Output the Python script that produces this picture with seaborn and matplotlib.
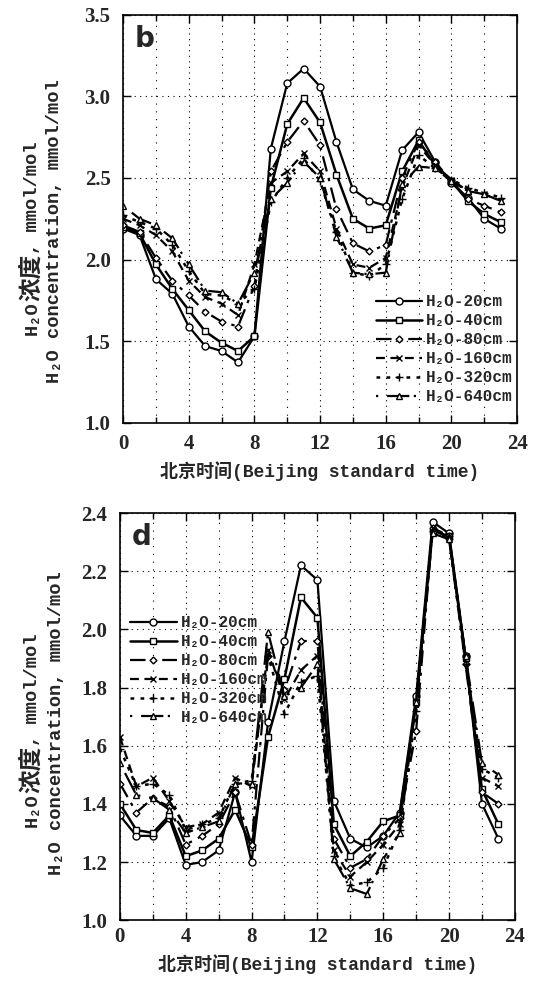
import numpy as np
import pandas as pd
import matplotlib
matplotlib.use("Agg")
import matplotlib.pyplot as plt
from matplotlib.ticker import MultipleLocator, FormatStrFormatter
import seaborn as sns

hours = list(range(24))
labels = ["H₂O-20cm", "H₂O-40cm", "H₂O-80cm", "H₂O-160cm", "H₂O-320cm", "H₂O-640cm"]

# Panel b
b_20 = [2.19, 2.15, 1.88, 1.79, 1.59, 1.47, 1.44, 1.37, 1.53, 2.68, 3.08, 3.17, 3.06, 2.72, 2.43, 2.36, 2.33, 2.67, 2.78, 2.60, 2.47, 2.38, 2.25, 2.19]
b_40 = [2.20, 2.16, 1.97, 1.82, 1.69, 1.56, 1.49, 1.44, 1.53, 2.44, 2.83, 2.99, 2.84, 2.52, 2.25, 2.19, 2.21, 2.54, 2.73, 2.58, 2.48, 2.36, 2.28, 2.23]
b_80 = [2.21, 2.17, 2.01, 1.87, 1.78, 1.68, 1.62, 1.59, 1.84, 2.54, 2.72, 2.85, 2.70, 2.31, 2.10, 2.05, 2.09, 2.50, 2.72, 2.60, 2.48, 2.37, 2.33, 2.29]
b_160 = [2.25, 2.21, 2.15, 2.05, 1.87, 1.77, 1.73, 1.66, 1.97, 2.47, 2.54, 2.65, 2.54, 2.19, 1.97, 1.95, 2.01, 2.44, 2.70, 2.58, 2.49, 2.42, 2.40, 2.36]
b_320 = [2.27, 2.23, 2.19, 2.09, 1.93, 1.79, 1.78, 1.73, 1.82, 2.35, 2.50, 2.62, 2.48, 2.17, 1.92, 1.90, 1.97, 2.37, 2.64, 2.56, 2.49, 2.44, 2.41, 2.38]
b_640 = [2.33, 2.25, 2.21, 2.13, 1.97, 1.81, 1.80, 1.73, 1.92, 2.37, 2.47, 2.60, 2.50, 2.14, 1.92, 1.91, 1.92, 2.46, 2.57, 2.56, 2.48, 2.42, 2.40, 2.36]

# Panel d
d_20 = [1.36, 1.29, 1.29, 1.35, 1.19, 1.20, 1.24, 1.44, 1.20, 1.68, 1.96, 2.22, 2.17, 1.41, 1.28, 1.25, 1.29, 1.37, 1.77, 2.37, 2.33, 1.91, 1.40, 1.28]
d_40 = [1.40, 1.31, 1.30, 1.36, 1.22, 1.24, 1.28, 1.38, 1.25, 1.63, 1.83, 2.11, 2.04, 1.33, 1.22, 1.27, 1.34, 1.36, 1.75, 2.34, 2.32, 1.90, 1.45, 1.33]
d_80 = [1.47, 1.37, 1.42, 1.39, 1.26, 1.29, 1.33, 1.44, 1.26, 1.91, 1.79, 1.96, 1.96, 1.28, 1.18, 1.21, 1.29, 1.35, 1.65, 2.35, 2.31, 1.88, 1.44, 1.40]
d_160 = [1.63, 1.46, 1.49, 1.41, 1.32, 1.33, 1.37, 1.49, 1.46, 1.93, 1.76, 1.86, 1.91, 1.24, 1.15, 1.20, 1.26, 1.33, 1.75, 2.35, 2.32, 1.91, 1.49, 1.46]
d_320 = [1.59, 1.46, 1.47, 1.43, 1.31, 1.33, 1.35, 1.47, 1.48, 1.91, 1.71, 1.82, 1.84, 1.22, 1.12, 1.13, 1.18, 1.31, 1.72, 2.34, 2.32, 1.88, 1.52, 1.49]
d_640 = [1.54, 1.43, 1.42, 1.38, 1.30, 1.32, 1.34, 1.47, 1.47, 1.99, 1.77, 1.80, 1.88, 1.21, 1.11, 1.09, 1.21, 1.30, 1.75, 2.33, 2.31, 1.91, 1.54, 1.50]

panel_b = [b_20, b_40, b_80, b_160, b_320, b_640]
panel_d = [d_20, d_40, d_80, d_160, d_320, d_640]

xlabel = "北京时间(Beijing standard time)"
ylabel_line1 = ["H₂O", "浓度", ", mmol/mol"]
ylabel_line2 = "H₂O concentration, mmol/mol"

sns.set_theme(style="white")
plt.rcParams["font.family"] = ["Liberation Serif", "Noto Sans CJK SC", "DejaVu Sans"]
plt.rcParams["axes.edgecolor"] = "black"
plt.rcParams["axes.linewidth"] = 1.2

styles = [
    dict(marker="o", linestyle="-", lw=1.6, ms=5),
    dict(marker="s", linestyle="-", lw=1.8, ms=5),
    dict(marker="D", linestyle=(0, (7, 3, 1.5, 3)), lw=1.6, ms=3.5),
    dict(marker="x", linestyle=(0, (4, 2.5)), lw=1.6, ms=5),
    dict(marker="+", linestyle=(0, (1.5, 2.5)), lw=1.8, ms=6),
    dict(marker="^", linestyle=(0, (1, 4, 10, 2)), lw=1.6, ms=4.5),
]

lab_font = ["Liberation Mono", "Noto Sans CJK SC", "DejaVu Sans"]

W, H = 533, 981
fig = plt.figure(figsize=(W / 100, H / 100), dpi=100)
ax_b = fig.add_axes([0.231, 0.569, 0.739, 0.416])
ax_d = fig.add_axes([0.225, 0.062, 0.741, 0.415])


def draw(ax, series, ylim, ystep, letter, legend_kw, xpad):
    for vals, lab, st in zip(series, labels, styles):
        df = pd.DataFrame({"hour": hours, "val": vals})
        sns.lineplot(data=df, x="hour", y="val", ax=ax, color="black",
                     marker=st["marker"], linestyle=st["linestyle"], linewidth=st["lw"],
                     markersize=st["ms"], markerfacecolor="white", markeredgecolor="black",
                     markeredgewidth=1.0, label=lab)
    ax.set_xlim(0, 24)
    ax.set_ylim(*ylim)
    ax.xaxis.set_major_locator(MultipleLocator(4))
    ax.xaxis.set_minor_locator(MultipleLocator(2))
    ax.yaxis.set_major_locator(MultipleLocator(ystep))
    ax.yaxis.set_major_formatter(FormatStrFormatter("%.1f"))
    ax.tick_params(which="both", direction="in", top=True, right=True, bottom=True, left=True,
                   color="black")
    ax.tick_params(which="major", length=6, width=1.0, labelsize=15)
    ax.tick_params(axis="y", which="major", pad=9)
    ax.tick_params(axis="x", which="major", pad=xpad)
    ax.tick_params(which="minor", length=4, width=1.0)
    for t in ax.get_xticklabels() + ax.get_yticklabels():
        t.set_fontweight("bold")
        t.set_family(["Liberation Serif"])
    ax.grid(True, which="major", axis="both", color="black", linestyle=(0, (1, 4)), linewidth=0.8)
    ax.grid(True, which="minor", axis="x", color="black", linestyle=(0, (1, 6)), linewidth=0.8)
    ax.set_xlabel(xlabel, fontsize=13, fontweight="bold", family=lab_font, labelpad=5)
    ax.set_ylabel("")
    ax.text(0.03, 0.975, letter, transform=ax.transAxes, va="top", ha="left",
            fontsize=20, fontweight="bold", family="DejaVu Sans")
    ax.legend(frameon=False, handlelength=2.9, handletextpad=0.25, labelspacing=0.25,
              borderaxespad=0, prop=dict(family=lab_font, size=11.5, weight="bold"),
              **legend_kw)
    for s in ax.spines.values():
        s.set_visible(True)
        s.set_color("black")


draw(ax_b, panel_b, (1.0, 3.5), 0.5, "b",
     dict(loc="lower right", bbox_to_anchor=(1.005, 0.03)), xpad=8)
draw(ax_d, panel_d, (1.0, 2.4), 0.2, "d",
     dict(loc="upper left", bbox_to_anchor=(0.01, 0.765)), xpad=5)

# two-line y labels placed in figure pixels (x centre, y centre from top)
fig.canvas.draw()
renderer = fig.canvas.get_renderer()


def place_ylabel(x1, cy1, x2, cy2):
    pieces = []
    sizes = [13.5, 17, 13.5]
    for txt, sz in zip(ylabel_line1, sizes):
        t = fig.text(x1 / W, 0.5, txt, rotation=90, ha="center", va="bottom",
                     fontsize=sz, fontweight="bold", family=lab_font)
        pieces.append(t)
    fig.canvas.draw()
    heights = [p.get_window_extent(renderer).height for p in pieces]
    total = sum(heights)
    y = (H - cy1) - total / 2
    for p, h in zip(pieces, heights):
        p.set_y(y / H)
        y += h
    fig.text(x2 / W, 1 - cy2 / H, ylabel_line2, rotation=90, ha="center", va="center",
             fontsize=13.5, fontweight="bold", family=lab_font)


place_ylabel(32, 238, 55, 231)
place_ylabel(32, 730, 56, 723)

fig.savefig("out.png", dpi=100, facecolor="white")
